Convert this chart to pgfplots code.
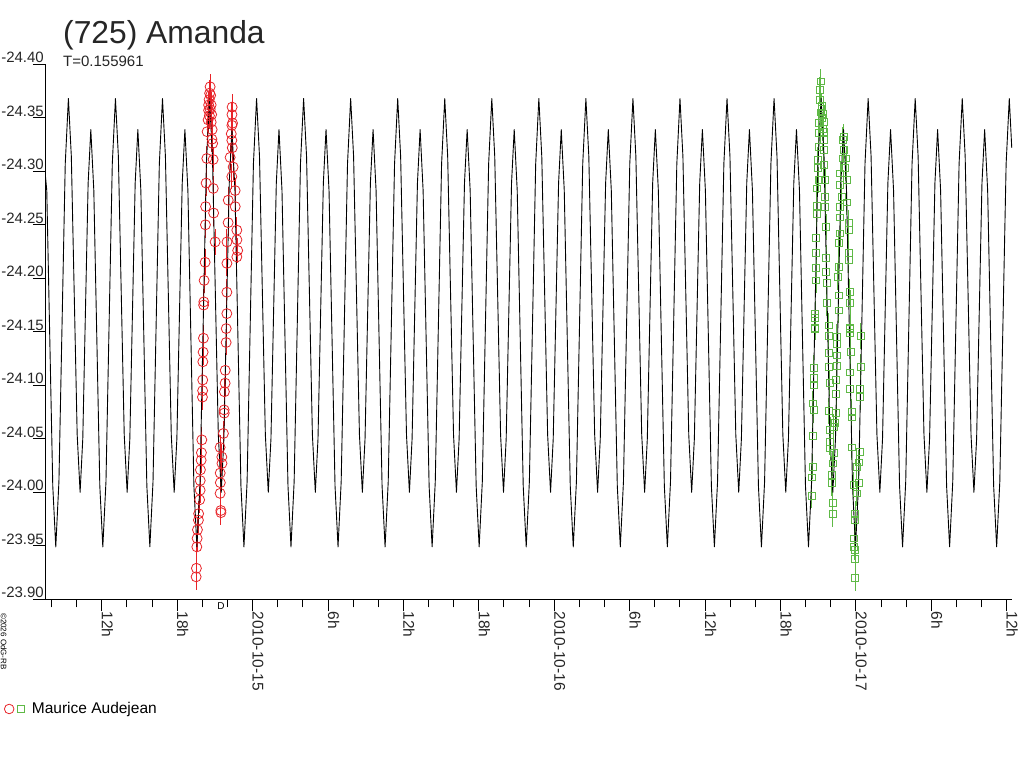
\documentclass[border=0pt]{standalone}
\usepackage{fontspec}
\setmainfont{Liberation Sans}
\usepackage{pgfplots}
\pgfplotsset{compat=1.18}
\definecolor{redc}{RGB}{232,35,40}
\definecolor{greenc}{RGB}{95,185,70}
\begin{document}
\begin{tikzpicture}
\path[use as bounding box] (0,0) rectangle (1024pt,768pt);
\node[anchor=base west, inner sep=0pt, font=\fontsize{31.8}{31.8}\selectfont, text=black!85] at (63pt,724pt) {(725) Amanda};
\node[anchor=base west, inner sep=0pt, font=\fontsize{15}{15}\selectfont, text=black!85] at (63pt,701pt) {T=0.155961};
\node[rotate=-90, anchor=base west, inner sep=0pt, font=\fontsize{8}{8}\selectfont] at (1pt,155pt) {\textcopyright2026 OdG-RB};
\node[inner sep=0pt, font=\fontsize{10}{10}\selectfont] at (221pt,162pt) {D};
\begin{axis}[
  at={(45pt,168.7pt)}, anchor=south west,
  scale only axis, width=967pt, height=535pt,
  xmin=7.48, xmax=84.42, ymin=-24.40, ymax=-23.90, y dir=reverse,
  axis x line*=bottom, axis y line*=left,
  axis line style={line width=1pt, black},
  tick align=outside, major tick length=12pt, minor tick length=8pt,
  tick style={line width=1pt, black},
  xtick={12,18,24,30,36,42,48,54,60,66,72,78,84},
  xticklabels={12h,18h,2010-10-15,6h,12h,18h,2010-10-16,6h,12h,18h,2010-10-17,6h,12h},
  minor xtick={8,10,14,16,20,22,26,28,32,34,38,40,44,46,50,52,56,58,62,64,68,70,74,76,80,82},
  ytick={-24.40,-24.35,-24.30,-24.25,-24.20,-24.15,-24.10,-24.05,-24.00,-23.95,-23.90},
  yticklabels={-24.40,-24.35,-24.30,-24.25,-24.20,-24.15,-24.10,-24.05,-24.00,-23.95,-23.90},
  xticklabel style={rotate=-90, anchor=base west, inner sep=0pt, font=\fontsize{15.5}{15.5}\selectfont, text=black!85},
  yticklabel style={anchor=south east, inner sep=0pt, xshift=11pt, yshift=1pt, font=\fontsize{15}{15}\selectfont, text=black!85},
  legend style={at={(axis description cs:-0.0424,-0.205)}, anchor=west, draw=none, fill=none, inner sep=0pt, outer sep=0pt, nodes={inner sep=0pt}, font=\fontsize{15.5}{15.5}\selectfont},
  legend cell align=left,
]
\addlegendimage{legend image code/.code={
  \draw[redc, line width=0.8pt] (5pt,0pt) circle (4.8pt);
  \draw[greenc, line width=0.8pt] (13pt,-3.4pt) rectangle (19.8pt,3.4pt);
  \path (27.5pt,0pt);
}}
\addlegendentry{Maurice Audejean}

\addplot[forget plot, only marks, mark=o, mark size=5pt, color=redc, line width=0.8pt,
  error bars/.cd, y dir=both, y fixed=0.012, error mark=none, error bar style={line width=1pt, color=redc}]
coordinates {
(19.504,-23.921) (19.528,-23.929) (19.560,-23.949) (19.584,-23.957) (19.608,-23.965) (19.687,-23.974) (19.703,-23.980) (19.783,-23.993) (19.823,-24.002) (19.830,-24.011) (19.847,-24.021) (19.902,-24.030) (19.926,-24.037) (19.958,-24.049) (20.006,-24.089) (20.022,-24.095) (20.030,-24.105) (20.038,-24.122) (20.061,-24.131) (20.085,-24.144) (20.101,-24.175) (20.117,-24.178) (20.141,-24.198) (20.221,-24.215) (20.245,-24.250) (20.260,-24.267) (20.300,-24.289) (20.356,-24.312) (20.380,-24.337) (20.459,-24.348) (20.499,-24.357) (20.539,-24.367) (20.579,-24.373) (20.618,-24.379) (20.658,-24.371) (20.698,-24.362) (20.738,-24.353) (20.778,-24.339) (20.817,-24.326) (20.857,-24.311) (20.870,-24.284) (20.897,-24.261) (21.016,-24.234)
(20.500,-24.362) (20.620,-24.358) (20.700,-24.346) (20.560,-24.352) (20.760,-24.330)
(21.414,-24.042) (21.550,-24.033) (21.560,-24.027) (21.420,-24.018) (21.430,-24.009) (21.414,-23.999) (21.470,-23.983) (21.480,-23.981) (21.677,-24.055) (21.733,-24.077) (21.740,-24.074) (21.756,-24.094) (21.812,-24.102) (21.820,-24.114) (21.892,-24.140) (21.900,-24.153) (21.948,-24.167) (21.950,-24.187) (21.955,-24.214) (21.960,-24.234) (22.051,-24.252) (22.060,-24.273) (22.210,-24.313) (22.345,-24.329) (22.350,-24.343) (22.355,-24.353) (22.369,-24.360) (22.449,-24.304) (22.345,-24.295) (22.608,-24.282) (22.615,-24.267) (22.743,-24.245) (22.750,-24.236) (22.743,-24.220) (22.810,-24.226)
(22.300,-24.335) (22.400,-24.345) (22.380,-24.322)
};

\addplot[forget plot, only marks, mark=square, mark size=3.4pt, color=greenc, line width=0.8pt,
  error bars/.cd, y dir=both, y fixed=0.012, error mark=none, error bar style={line width=1pt, color=greenc}]
coordinates {
(69.218,-24.384) (69.107,-24.376) (69.162,-24.367) (69.282,-24.361) (69.401,-24.354) (69.027,-24.345) (69.027,-24.336) (69.425,-24.346) (69.425,-24.337) (69.425,-24.329) (69.027,-24.323) (69.425,-24.320) (68.948,-24.311) (69.425,-24.306) (68.948,-24.303) (69.027,-24.292) (68.900,-24.284) (69.560,-24.292) (69.560,-24.276) (69.560,-24.267) (68.900,-24.268) (68.900,-24.260) (69.640,-24.248) (68.844,-24.238) (68.844,-24.224) (69.640,-24.219) (68.844,-24.210) (69.640,-24.206) (69.696,-24.196) (68.844,-24.198) (69.696,-24.177) (68.764,-24.167) (68.764,-24.163) (68.764,-24.154) (69.823,-24.156)
(69.250,-24.358) (69.300,-24.350) (69.200,-24.355) (69.350,-24.340)
(71.017,-24.332) (70.953,-24.329) (71.017,-24.320) (70.953,-24.312) (71.232,-24.312) (70.754,-24.298) (71.152,-24.303) (71.287,-24.292) (70.754,-24.287) (70.889,-24.276) (71.287,-24.271) (70.754,-24.267) (70.754,-24.257) (71.415,-24.252) (71.415,-24.245) (70.754,-24.242) (70.619,-24.233) (71.415,-24.224) (71.415,-24.217) (70.619,-24.211) (70.571,-24.201) (71.494,-24.187) (70.619,-24.184) (71.550,-24.177) (70.619,-24.170) (71.550,-24.154)
(68.709,-24.153) (68.629,-24.116) (68.629,-24.107) (68.629,-24.100) (68.582,-24.083) (68.629,-24.077) (68.582,-24.053) (68.582,-24.024) (68.502,-24.014) (68.502,-23.997)
(69.823,-24.146) (70.491,-24.145) (70.491,-24.139) (69.823,-24.130) (70.491,-24.128) (69.823,-24.117) (70.491,-24.118) (69.902,-24.102) (70.436,-24.105) (70.436,-24.092) (69.823,-24.076) (70.436,-24.074) (70.356,-24.065) (69.958,-24.058) (70.221,-24.061) (69.902,-24.047) (69.958,-24.041) (70.221,-24.037) (70.173,-24.027) (70.093,-24.016) (70.093,-24.009) (70.173,-23.990) (70.173,-23.980)
(71.550,-24.153) (71.550,-24.149) (72.401,-24.146) (71.605,-24.131) (72.401,-24.117) (71.550,-24.112) (71.550,-24.097) (72.345,-24.097) (72.345,-24.089) (71.685,-24.075) (71.685,-24.070) (71.685,-24.042) (72.290,-24.038) (72.210,-24.028) (72.083,-24.024) (71.812,-24.007) (72.210,-24.009) (72.083,-23.999) (71.948,-23.980) (71.948,-23.974) (71.868,-23.957) (71.868,-23.949) (71.948,-23.946) (71.948,-23.938) (71.948,-23.920)
};

\addplot[forget plot, black, line width=0.9pt, line join=round, mark=none] coordinates {
(7.48,-24.300) (7.621,-24.282) (7.860,-24.144) (8.098,-24.006) (8.337,-23.949) (8.588,-24.010) (8.840,-24.159) (9.091,-24.307)
(9.342,-24.368) (9.575,-24.314) (9.808,-24.184) (10.040,-24.054) (10.273,-24.000) (10.486,-24.050) (10.699,-24.170) (10.912,-24.289) (11.125,-24.339) (11.364,-24.282) (11.603,-24.144) (11.841,-24.006) (12.080,-23.949) (12.331,-24.010) (12.583,-24.159) (12.834,-24.307)
(13.085,-24.368) (13.318,-24.314) (13.551,-24.184) (13.783,-24.054) (14.016,-24.000) (14.229,-24.050) (14.442,-24.170) (14.655,-24.289) (14.868,-24.339) (15.107,-24.282) (15.346,-24.144) (15.584,-24.006) (15.823,-23.949) (16.074,-24.010) (16.326,-24.159) (16.577,-24.307)
(16.828,-24.368) (17.061,-24.314) (17.294,-24.184) (17.526,-24.054) (17.759,-24.000) (17.972,-24.050) (18.185,-24.170) (18.398,-24.289) (18.611,-24.339) (18.850,-24.282) (19.089,-24.144) (19.327,-24.006) (19.566,-23.949) (19.817,-24.010) (20.069,-24.159) (20.320,-24.307)
(20.571,-24.368) (20.804,-24.314) (21.037,-24.184) (21.269,-24.054) (21.502,-24.000) (21.715,-24.050) (21.928,-24.170) (22.141,-24.289) (22.354,-24.339) (22.593,-24.282) (22.832,-24.144) (23.070,-24.006) (23.309,-23.949) (23.560,-24.010) (23.812,-24.159) (24.063,-24.307)
(24.314,-24.368) (24.547,-24.314) (24.780,-24.184) (25.012,-24.054) (25.245,-24.000) (25.458,-24.050) (25.671,-24.170) (25.884,-24.289) (26.097,-24.339) (26.336,-24.282) (26.575,-24.144) (26.813,-24.006) (27.052,-23.949) (27.303,-24.010) (27.555,-24.159) (27.806,-24.307)
(28.057,-24.368) (28.290,-24.314) (28.523,-24.184) (28.755,-24.054) (28.988,-24.000) (29.201,-24.050) (29.414,-24.170) (29.627,-24.289) (29.840,-24.339) (30.079,-24.282) (30.318,-24.144) (30.556,-24.006) (30.795,-23.949) (31.046,-24.010) (31.298,-24.159) (31.549,-24.307)
(31.800,-24.368) (32.033,-24.314) (32.266,-24.184) (32.498,-24.054) (32.731,-24.000) (32.944,-24.050) (33.157,-24.170) (33.370,-24.289) (33.583,-24.339) (33.822,-24.282) (34.061,-24.144) (34.299,-24.006) (34.538,-23.949) (34.789,-24.010) (35.041,-24.159) (35.292,-24.307)
(35.543,-24.368) (35.776,-24.314) (36.009,-24.184) (36.241,-24.054) (36.474,-24.000) (36.687,-24.050) (36.900,-24.170) (37.113,-24.289) (37.326,-24.339) (37.565,-24.282) (37.804,-24.144) (38.042,-24.006) (38.281,-23.949) (38.532,-24.010) (38.784,-24.159) (39.035,-24.307)
(39.286,-24.368) (39.519,-24.314) (39.752,-24.184) (39.984,-24.054) (40.217,-24.000) (40.430,-24.050) (40.643,-24.170) (40.856,-24.289) (41.069,-24.339) (41.308,-24.282) (41.547,-24.144) (41.785,-24.006) (42.024,-23.949) (42.275,-24.010) (42.527,-24.159) (42.778,-24.307)
(43.030,-24.368) (43.263,-24.314) (43.496,-24.184) (43.728,-24.054) (43.961,-24.000) (44.174,-24.050) (44.387,-24.170) (44.600,-24.289) (44.813,-24.339) (45.052,-24.282) (45.291,-24.144) (45.529,-24.006) (45.768,-23.949) (46.019,-24.010) (46.271,-24.159) (46.522,-24.307)
(46.773,-24.368) (47.006,-24.314) (47.239,-24.184) (47.471,-24.054) (47.704,-24.000) (47.917,-24.050) (48.130,-24.170) (48.343,-24.289) (48.556,-24.339) (48.795,-24.282) (49.034,-24.144) (49.272,-24.006) (49.511,-23.949) (49.762,-24.010) (50.014,-24.159) (50.265,-24.307)
(50.516,-24.368) (50.749,-24.314) (50.982,-24.184) (51.214,-24.054) (51.447,-24.000) (51.660,-24.050) (51.873,-24.170) (52.086,-24.289) (52.299,-24.339) (52.538,-24.282) (52.777,-24.144) (53.015,-24.006) (53.254,-23.949) (53.505,-24.010) (53.757,-24.159) (54.008,-24.307)
(54.259,-24.368) (54.492,-24.314) (54.725,-24.184) (54.957,-24.054) (55.190,-24.000) (55.403,-24.050) (55.616,-24.170) (55.829,-24.289) (56.042,-24.339) (56.281,-24.282) (56.520,-24.144) (56.758,-24.006) (56.997,-23.949) (57.248,-24.010) (57.500,-24.159) (57.751,-24.307)
(58.002,-24.368) (58.235,-24.314) (58.468,-24.184) (58.700,-24.054) (58.933,-24.000) (59.146,-24.050) (59.359,-24.170) (59.572,-24.289) (59.785,-24.339) (60.024,-24.282) (60.263,-24.144) (60.501,-24.006) (60.740,-23.949) (60.991,-24.010) (61.243,-24.159) (61.494,-24.307)
(61.745,-24.368) (61.978,-24.314) (62.211,-24.184) (62.443,-24.054) (62.676,-24.000) (62.889,-24.050) (63.102,-24.170) (63.315,-24.289) (63.528,-24.339) (63.767,-24.282) (64.006,-24.144) (64.244,-24.006) (64.483,-23.949) (64.734,-24.010) (64.986,-24.159) (65.237,-24.307)
(65.488,-24.368) (65.721,-24.314) (65.954,-24.184) (66.186,-24.054) (66.419,-24.000) (66.632,-24.050) (66.845,-24.170) (67.058,-24.289) (67.271,-24.339) (67.510,-24.282) (67.749,-24.144) (67.987,-24.006) (68.226,-23.949) (68.477,-24.010) (68.729,-24.159) (68.980,-24.307)
(69.231,-24.368) (69.464,-24.314) (69.697,-24.184) (69.929,-24.054) (70.162,-24.000) (70.375,-24.050) (70.588,-24.170) (70.801,-24.289) (71.014,-24.339) (71.253,-24.282) (71.492,-24.144) (71.730,-24.006) (71.969,-23.949) (72.220,-24.010) (72.472,-24.159) (72.723,-24.307)
(72.974,-24.368) (73.207,-24.314) (73.440,-24.184) (73.672,-24.054) (73.905,-24.000) (74.118,-24.050) (74.331,-24.170) (74.544,-24.289) (74.757,-24.339) (74.996,-24.282) (75.235,-24.144) (75.473,-24.006) (75.712,-23.949) (75.963,-24.010) (76.215,-24.159) (76.466,-24.307)
(76.717,-24.368) (76.950,-24.314) (77.183,-24.184) (77.415,-24.054) (77.648,-24.000) (77.861,-24.050) (78.074,-24.170) (78.287,-24.289) (78.500,-24.339) (78.739,-24.282) (78.978,-24.144) (79.216,-24.006) (79.455,-23.949) (79.706,-24.010) (79.958,-24.159) (80.209,-24.307)
(80.460,-24.368) (80.693,-24.314) (80.926,-24.184) (81.158,-24.054) (81.391,-24.000) (81.604,-24.050) (81.817,-24.170) (82.030,-24.289) (82.243,-24.339) (82.482,-24.282) (82.721,-24.144) (82.959,-24.006) (83.198,-23.949) (83.449,-24.010) (83.701,-24.159) (83.952,-24.307)
(84.203,-24.368) (84.400,-24.322)
};
\end{axis}
\end{tikzpicture}
\end{document}
